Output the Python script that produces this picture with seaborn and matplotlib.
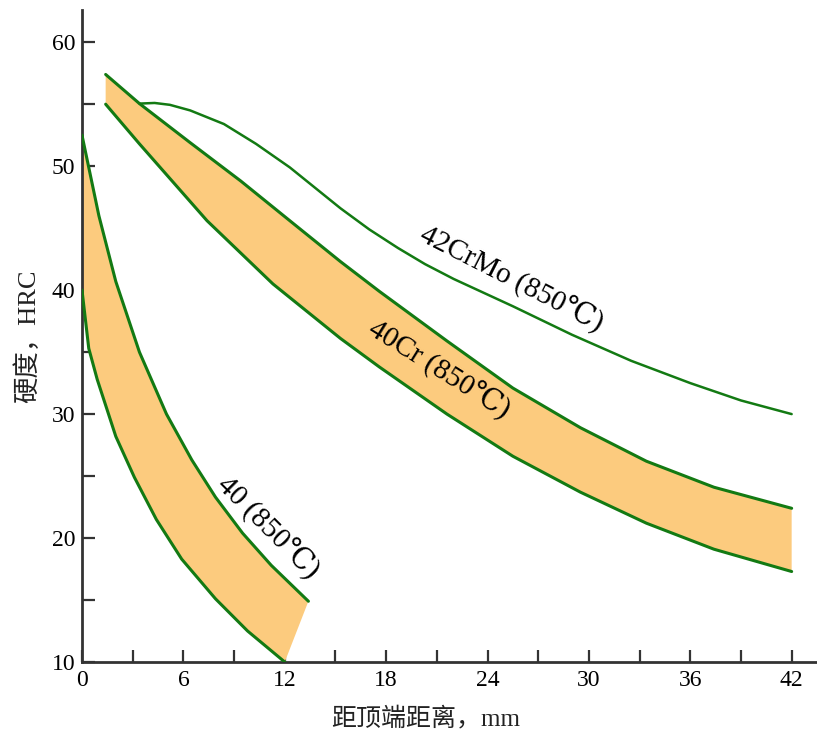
import matplotlib
matplotlib.use("Agg")
import matplotlib.pyplot as plt
import seaborn as sns
import numpy as np

# ---- data ----
x40_up = [0, 1.0, 2.0, 3.4, 5.0, 6.5, 7.9, 9.5, 11.2, 13.4]
y40_up = [52.5, 46.0, 40.7, 35.0, 30.0, 26.3, 23.3, 20.4, 17.8, 14.9]
x40_lo = [0, 0.4, 0.9, 1.57, 2.0, 3.1, 4.4, 5.9, 7.9, 9.8, 12.0]
y40_lo = [40.0, 35.3, 32.8, 30.0, 28.2, 24.9, 21.5, 18.3, 15.1, 12.5, 10.0]

xcr_up = [1.4, 3.4, 6.4, 9.4, 12.3, 15.3, 17.6, 21.6, 25.5, 29.5, 33.4, 37.4, 42.0]
ycr_up = [57.4, 55.05, 51.9, 48.8, 45.6, 42.3, 39.9, 35.9, 32.1, 28.9, 26.2, 24.1, 22.4]
xcr_lo = [1.4, 3.4, 7.4, 11.3, 15.3, 17.6, 21.6, 25.5, 29.5, 33.4, 37.4, 42.0]
ycr_lo = [55.0, 51.8, 45.6, 40.5, 36.1, 33.8, 30.0, 26.6, 23.7, 21.2, 19.1, 17.3]

xmo = [3.4, 4.3, 5.2, 6.4, 8.4, 10.3, 12.3, 15.3, 17.0, 18.7, 20.3, 22.0, 25.5, 29.0, 32.5, 36.0, 39.0, 42.0]
ymo = [55.05, 55.1, 54.95, 54.5, 53.4, 51.8, 49.9, 46.6, 44.9, 43.4, 42.1, 40.9, 38.7, 36.4, 34.3, 32.5, 31.1, 30.0]

labels = ["40 (850\u2103)", "40Cr (850\u2103)", "42CrMo (850\u2103)"]
xticks = [0, 6, 12, 18, 24, 30, 36, 42]
yticks = [10, 20, 30, 40, 50, 60]

xlabel = "距顶端距离，mm"
ylabel = "硬度，HRC"

# ---- style ----
sns.set_style("ticks")
plt.rcParams['font.family'] = ['Liberation Serif', 'DejaVu Serif', 'Noto Sans CJK SC']
plt.rcParams['axes.unicode_minus'] = False

GREEN = "#137a13"
FILL = "#fccb7e"
AXC = "#333333"

fig = plt.figure(figsize=(8.17, 7.43), dpi=100)
ax = fig.add_axes([82/817, (743-662)/743, (817-82)/817, (662-10)/743])

# bands
ax.fill(list(x40_up) + list(x40_lo[::-1]), list(y40_up) + list(y40_lo[::-1]),
        color=FILL, lw=0, zorder=1)
ax.fill(list(xcr_up) + list(xcr_lo[::-1]), list(ycr_up) + list(ycr_lo[::-1]),
        color=FILL, lw=0, zorder=1)

for xs, ys in [(x40_up, y40_up), (x40_lo, y40_lo), (xcr_up, ycr_up), (xcr_lo, ycr_lo)]:
    sns.lineplot(x=xs, y=ys, ax=ax, color=GREEN, lw=2.2, sort=False, estimator=None, zorder=3)
sns.lineplot(x=xmo, y=ymo, ax=ax, color=GREEN, lw=1.8, sort=False, estimator=None, zorder=3)

ax.set_xlim(0, 43.5)
ax.set_ylim(10, 62.6)

ax.set_xticks(xticks)
ax.set_yticks(yticks)
ax.set_xticks(np.arange(3, 42, 6), minor=True)
ax.set_yticks(np.arange(15, 60, 10), minor=True)
ax.tick_params(axis='both', which='both', direction='in', length=9, width=1.6,
               color=AXC, labelsize=17, labelcolor='black')
ax.tick_params(axis='x', pad=6)
ax.tick_params(axis='y', pad=5)

for s in ['top', 'right']:
    ax.spines[s].set_visible(False)
for s in ['left', 'bottom']:
    ax.spines[s].set_color(AXC)
    ax.spines[s].set_linewidth(2.0)

ax.set_xlabel(xlabel, fontsize=18, color='#222222')
ax.xaxis.set_label_coords(0.467, -0.068)
ax.set_ylabel(ylabel, fontsize=19, labelpad=8, color='#222222')

tk = dict(ha='center', va='center', rotation_mode='anchor', fontsize=21, color='black')
ax.text(11.0, 20.8, labels[0], rotation=-45, **tk)
ax.text(21.1, 33.6, labels[1], rotation=-32, **tk)
ax.text(25.4, 40.9, labels[2], rotation=-27, **tk)

fig.savefig("out.png", dpi=100)
